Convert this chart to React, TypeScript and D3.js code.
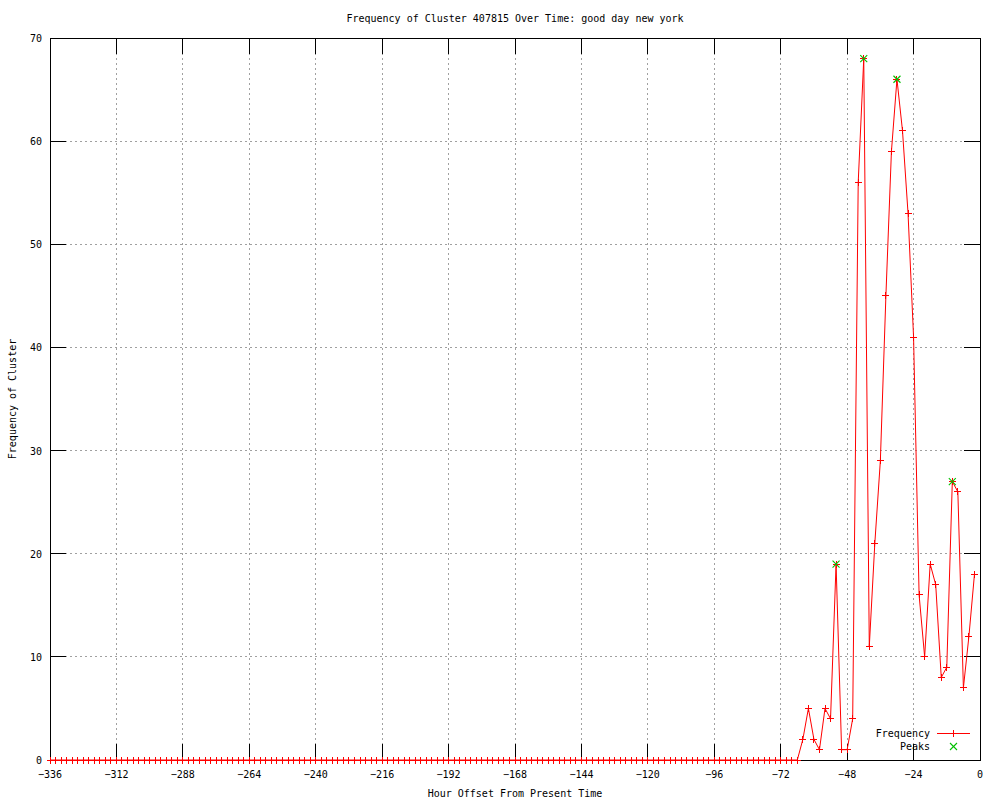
import React from "react";
import * as d3 from "d3";

const hours: number[] = [
  -336, -334, -332, -330, -328, -326, -324, -322, -320, -318, -316, -314,
  -312, -310, -308, -306, -304, -302, -300, -298, -296, -294, -292, -290,
  -288, -286, -284, -282, -280, -278, -276, -274, -272, -270, -268, -266,
  -264, -262, -260, -258, -256, -254, -252, -250, -248, -246, -244, -242,
  -240, -238, -236, -234, -232, -230, -228, -226, -224, -222, -220, -218,
  -216, -214, -212, -210, -208, -206, -204, -202, -200, -198, -196, -194,
  -192, -190, -188, -186, -184, -182, -180, -178, -176, -174, -172, -170,
  -168, -166, -164, -162, -160, -158, -156, -154, -152, -150, -148, -146,
  -144, -142, -140, -138, -136, -134, -132, -130, -128, -126, -124, -122,
  -120, -118, -116, -114, -112, -110, -108, -106, -104, -102, -100, -98,
  -96, -94, -92, -90, -88, -86, -84, -82, -80, -78, -76, -74,
  -72, -70, -68, -66, -64, -62, -60, -58, -56, -54, -52, -50,
  -48, -46, -44, -42, -40, -38, -36, -34, -32, -30, -28, -26,
  -24, -22, -20, -18, -16, -14, -12, -10, -8, -6, -4, -2,
];

const frequency: number[] = [
  0, 0, 0, 0, 0, 0, 0, 0, 0, 0, 0, 0,
  0, 0, 0, 0, 0, 0, 0, 0, 0, 0, 0, 0,
  0, 0, 0, 0, 0, 0, 0, 0, 0, 0, 0, 0,
  0, 0, 0, 0, 0, 0, 0, 0, 0, 0, 0, 0,
  0, 0, 0, 0, 0, 0, 0, 0, 0, 0, 0, 0,
  0, 0, 0, 0, 0, 0, 0, 0, 0, 0, 0, 0,
  0, 0, 0, 0, 0, 0, 0, 0, 0, 0, 0, 0,
  0, 0, 0, 0, 0, 0, 0, 0, 0, 0, 0, 0,
  0, 0, 0, 0, 0, 0, 0, 0, 0, 0, 0, 0,
  0, 0, 0, 0, 0, 0, 0, 0, 0, 0, 0, 0,
  0, 0, 0, 0, 0, 0, 0, 0, 0, 0, 0, 0,
  0, 0, 0, 0, 2, 5, 2, 1, 5, 4, 19, 1,
  1, 4, 56, 68, 11, 21, 29, 45, 59, 66, 61, 53,
  41, 16, 10, 19, 17, 8, 9, 27, 26, 7, 12, 18,
];

const peakHours: number[] = [-52, -42, -30, -10];
const peakValues: number[] = [19, 68, 66, 27];

const xTicks: number[] = [-336, -312, -288, -264, -240, -216, -192, -168, -144, -120, -96, -72, -48, -24, 0];
const yTicks: number[] = [0, 10, 20, 30, 40, 50, 60, 70];

const W = 1000;
const H = 800;
const left = 50;
const right = 980;
const top = 38;
const bottom = 760;
const FONT = "'DejaVu Sans Mono', monospace";

export default function App() {
  const x = d3.scaleLinear().domain([-336, 0]).range([left, right]);
  const y = d3.scaleLinear().domain([0, 70]).range([bottom, top]);
  const line = d3
    .line<number>()
    .x((_, i) => x(hours[i]))
    .y((d) => y(d));
  const tickLen = 16;
  const m = 3.5;
  const g = 3.5;
  return (
    <svg
      width={W}
      height={H}
      style={{ position: "absolute", left: 0, top: 0, background: "#fff" }}
      fontFamily={FONT}
      fontSize={10}
    >
      <rect x={0} y={0} width={W} height={H} fill="#fff" />
      {/* grid */}
      <g shapeRendering="crispEdges">
        {xTicks.slice(1, -1).map((t) => (
          <line key={"gx" + t} x1={x(t)} x2={x(t)} y1={top} y2={bottom} stroke="#a0a0a0" strokeDasharray="2,3" />
        ))}
        {yTicks.slice(1, -1).map((t) => (
          <line key={"gy" + t} x1={left} x2={right} y1={y(t)} y2={y(t)} stroke="#a0a0a0" strokeDasharray="2,3" />
        ))}
      </g>
      {/* ticks */}
      {xTicks.map((t) => (
        <g key={"tx" + t}>
          <line x1={x(t)} x2={x(t)} y1={bottom} y2={bottom - tickLen} stroke="#000" shapeRendering="crispEdges" />
          <line x1={x(t)} x2={x(t)} y1={top} y2={top + tickLen} stroke="#000" shapeRendering="crispEdges" />
          <text x={x(t)} y={778} textAnchor="middle" fill="#000">
            {t === 0 ? "0" : "\u2212" + Math.abs(t)}
          </text>
        </g>
      ))}
      {yTicks.map((t) => (
        <g key={"ty" + t}>
          <line x1={left} x2={left + tickLen} y1={y(t)} y2={y(t)} stroke="#000" shapeRendering="crispEdges" />
          <line x1={right} x2={right - tickLen} y1={y(t)} y2={y(t)} stroke="#000" shapeRendering="crispEdges" />
          <text x={42} y={y(t) + 4} textAnchor="end" fill="#000">
            {t}
          </text>
        </g>
      ))}
      {/* border */}
      <rect x={left} y={top} width={right - left} height={bottom - top} fill="none" stroke="#000" shapeRendering="crispEdges" />
      {/* series */}
      <path d={line(frequency) || ""} fill="none" stroke="#ff0000" strokeWidth={1} />
      <g stroke="#ff0000" shapeRendering="crispEdges">
        {frequency.map((v, i) => (
          <g key={"p" + i}>
            <line x1={x(hours[i]) - m} x2={x(hours[i]) + m} y1={y(v)} y2={y(v)} />
            <line x1={x(hours[i])} x2={x(hours[i])} y1={y(v) - m} y2={y(v) + m} />
          </g>
        ))}
      </g>
      {peakHours.map((h, i) => (
        <g key={"pk" + i} stroke="#00c000" strokeWidth={1.1}>
          <line x1={x(h) - g} x2={x(h) + g} y1={y(peakValues[i]) - g} y2={y(peakValues[i]) + g} />
          <line x1={x(h) - g} x2={x(h) + g} y1={y(peakValues[i]) + g} y2={y(peakValues[i]) - g} />
        </g>
      ))}
      {/* legend */}
      <text x={930} y={737} textAnchor="end" fill="#000">Frequency</text>
      <line x1={937} x2={970} y1={733} y2={733} stroke="#ff0000" shapeRendering="crispEdges" />
      <line x1={953.5} x2={953.5} y1={733 - m} y2={733 + m} stroke="#ff0000" shapeRendering="crispEdges" />
      <text x={930} y={750} textAnchor="end" fill="#000">Peaks</text>
      <g stroke="#00c000" strokeWidth={1.1}>
        <line x1={950} x2={957} y1={743} y2={750} />
        <line x1={950} x2={957} y1={750} y2={743} />
      </g>
      {/* titles */}
      <text x={(left + right) / 2} y={22} textAnchor="middle" fill="#000">
        Frequency of Cluster 407815 Over Time: good day new york
      </text>
      <text x={(left + right) / 2} y={797} textAnchor="middle" fill="#000">
        Hour Offset From Present Time
      </text>
      <text transform={`translate(16, ${(top + bottom) / 2}) rotate(-90)`} textAnchor="middle" fill="#000">
        Frequency of Cluster
      </text>
    </svg>
  );
}
